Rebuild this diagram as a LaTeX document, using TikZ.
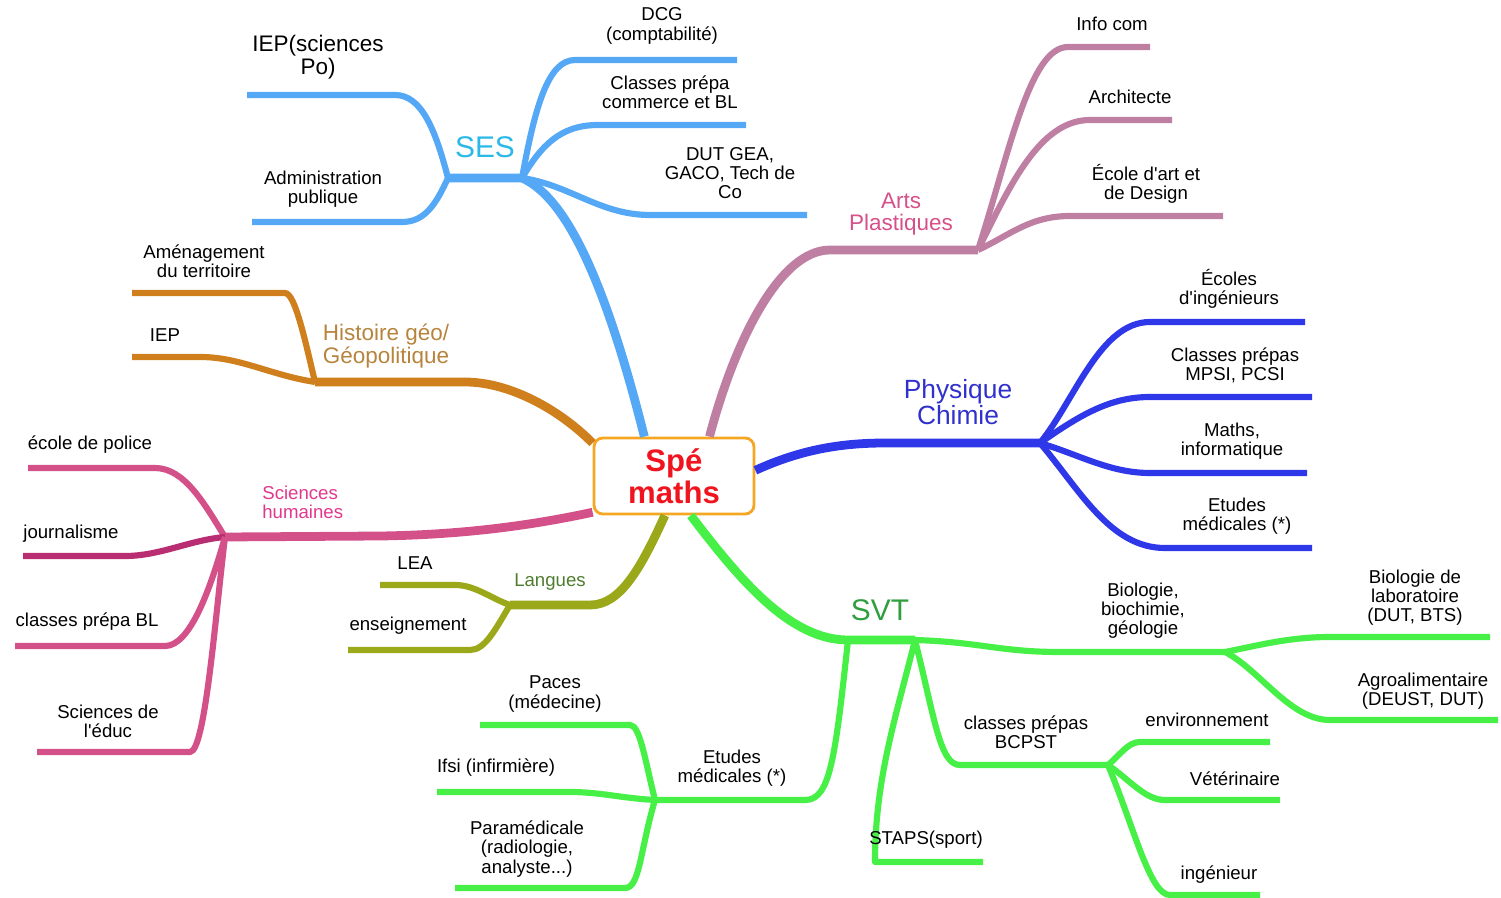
\documentclass[tikz,border=0pt]{standalone}
\usepackage{fontspec}
\setmainfont{Liberation Sans}
\definecolor{sesc}{HTML}{55A8F5}
\definecolor{sest}{HTML}{2AB8E6}
\definecolor{artc}{HTML}{BF7FA3}
\definecolor{artt}{HTML}{D6508A}
\definecolor{hisc}{HTML}{CF7F1B}
\definecolor{hist}{HTML}{B7843E}
\definecolor{phyc}{HTML}{2F38E8}
\definecolor{phyt}{HTML}{3030CC}
\definecolor{shc}{HTML}{D35089}
\definecolor{shd}{HTML}{B92E73}
\definecolor{sht}{HTML}{E2378C}
\definecolor{lanc}{HTML}{9AA819}
\definecolor{lant}{HTML}{4F7C2F}
\definecolor{svtc}{HTML}{46F046}
\definecolor{svtt}{HTML}{2E9E3E}
\definecolor{spet}{HTML}{F0141E}
\definecolor{spef}{HTML}{F5A623}
\tikzset{
  trunk/.style={line width=5pt,line join=round},
  twig/.style={line width=3.5pt,line join=round},
  lbl/.style={align=center,inner sep=0pt,font=\fontsize{10.6}{10.9}\selectfont},
  big/.style={align=center,inner sep=0pt,font=\fontsize{#1}{#1}\selectfont},
}
\begin{document}
\begin{tikzpicture}[x=0.02cm,y=-0.02cm]
\path[use as bounding box] (0,0) rectangle (1501,898);
\node[draw=spef,line width=1.6pt,fill=white,rounded corners=5pt,minimum width=3.2cm,minimum height=1.52cm,
  align=center,text=spet,font=\bfseries\fontsize{17.7}{18}\selectfont] (spe) at (674,476) {Spé\\maths};
% SES
\coordinate (ses) at (522,178);
\coordinate (sesl) at (448,178);
\coordinate (iep) at (247,95);
\coordinate (adm) at (252,222);
\coordinate (dcg) at (737,60);
\coordinate (com) at (746,125);
\coordinate (dut) at (807,215);
\draw[trunk,sesc] (spe.127) .. controls (600,260) and (560,195) .. (ses) -- (sesl);
\draw[twig,sesc] (sesl) .. controls (435,128) and (421,95) .. (395,95) -- (iep);
\draw[twig,sesc] (sesl) .. controls (436,204) and (425,222) .. (402,222) -- (adm);
\draw[twig,sesc] (ses) .. controls (535,107) and (548,60) .. (575,60) -- (dcg);
\draw[twig,sesc] (ses) .. controls (541,146) and (560,125) .. (598,125) -- (com);
\draw[twig,sesc] (ses) .. controls (570,185) and (600,215) .. (650,215) -- (dut);
\node[big=12.8] at (318,57) {IEP(sciences\\Po)};
\node[lbl] at (323,189) {Administration\\publique};
\node[big=17,text=sest] at (485,147) {SES};
\node[lbl] at (662,26) {DCG\\(comptabilité)};
\node[lbl] at (670,92) {Classes prépa\\commerce et BL};
\node[lbl] at (730,173) {DUT GEA,\\GACO, Tech de\\Co};
% Arts plastiques
\coordinate (art) at (978,250);
\coordinate (info) at (1150,47);
\coordinate (archi) at (1172,120);
\coordinate (ecole) at (1223,216);
\draw[trunk,artc] (spe.48) .. controls (735,340) and (780,250) .. (830,250) -- (art);
\draw[twig,artc] (art) .. controls (1010,150) and (1030,47) .. (1068,47) -- (info);
\draw[twig,artc] (art) .. controls (1010,185) and (1040,120) .. (1090,120) -- (archi);
\draw[twig,artc] (art) .. controls (1010,235) and (1030,216) .. (1070,216) -- (ecole);
\node[big=12.8,text=artt] at (901,214) {Arts\\Plastiques};
\node[lbl] at (1112,24) {Info com};
\node[lbl] at (1130,97) {Architecte};
\node[lbl] at (1146,184) {École d\textquotesingle art et\\de Design};
% Histoire geo
\coordinate (his) at (315,382);
\coordinate (amen) at (132,293);
\coordinate (iepb) at (132,357);
\draw[trunk,hisc] (spe.158) .. controls (560,410) and (510,382) .. (465,382) -- (his);
\draw[twig,hisc] (his) .. controls (305,340) and (295,293) .. (285,293) -- (amen);
\draw[twig,hisc] (his) .. controls (270,375) and (240,357) .. (200,357) -- (iepb);
\node[lbl] at (204,261) {Aménagement\\du territoire};
\node[lbl] at (165,335) {IEP};
\node[big=12.8,text=hist] at (386,346) {Histoire géo/\\Géopolitique};
% Physique chimie
\coordinate (phy) at (1040,443);
\coordinate (ing) at (1305,322);
\coordinate (mpsi) at (1312,397);
\coordinate (info2) at (1307,473);
\coordinate (med) at (1312,548);
\draw[trunk,phyc] (spe.4) .. controls (800,450) and (840,443) .. (885,443) -- (phy);
\draw[twig,phyc] (phy) .. controls (1075,400) and (1100,322) .. (1150,322) -- (ing);
\draw[twig,phyc] (phy) .. controls (1080,415) and (1110,397) .. (1150,397) -- (mpsi);
\draw[twig,phyc] (phy) .. controls (1080,455) and (1110,473) .. (1150,473) -- (info2);
\draw[twig,phyc] (phy) .. controls (1080,490) and (1110,548) .. (1165,548) -- (med);
\node[big=15,text=phyt] at (958,402) {Physique\\Chimie};
\node[lbl] at (1229,289) {Écoles\\d\textquotesingle ingénieurs};
\node[lbl] at (1235,365) {Classes prépas\\MPSI, PCSI};
\node[lbl] at (1232,441) {Maths,\\informatique};
\node[lbl] at (1237,516) {Etudes\\médicales (*)};
% Sciences humaines
\coordinate (sh) at (225,537);
\coordinate (pol) at (28,468);
\coordinate (jour) at (23,556);
\coordinate (bl) at (15,646);
\coordinate (educ) at (37,752);
\draw[trunk,shc] (spe.204) .. controls (520,528) and (450,535) .. (380,536) -- (sh);
\draw[twig,shc] (sh) .. controls (205,505) and (185,468) .. (155,468) -- (pol);
\draw[twig,shd] (sh) .. controls (190,540) and (160,556) .. (125,556) -- (jour);
\draw[twig,shc] (sh) .. controls (210,590) and (190,646) .. (165,646) -- (bl);
\draw[twig,shc] (sh) .. controls (215,620) and (205,752) .. (190,752) -- (educ);
\node[lbl,text=sht,anchor=west,align=left] at (262,502) {Sciences\\humaines};
\node[lbl] at (90,445) {école de police};
\node[lbl] at (71,534) {journalisme};
\node[lbl] at (87,622) {classes prépa BL};
\node[lbl] at (108,721) {Sciences de\\l\textquotesingle éduc};
% Langues
\coordinate (lan) at (510,605);
\coordinate (lea) at (380,585);
\coordinate (ens) at (348,650);
\draw[trunk,lanc] (spe.257) .. controls (640,570) and (620,605) .. (590,605) -- (lan);
\draw[twig,lanc] (lan) .. controls (490,598) and (475,585) .. (455,585) -- (lea);
\draw[twig,lanc] (lan) .. controls (495,630) and (485,650) .. (470,650) -- (ens);
\node[lbl,text=lant] at (550,582) {Langues};
\node[lbl] at (415,563) {LEA};
\node[lbl] at (408,626) {enseignement};
% SVT
\coordinate (svt) at (848,640);
\coordinate (svtr) at (915,640);
\coordinate (etu) at (655,800);
\coordinate (pac) at (480,725);
\coordinate (ifsi) at (437,792);
\coordinate (para) at (455,888);
\coordinate (bio) at (1225,652);
\coordinate (labo) at (1490,637);
\coordinate (agro) at (1498,720);
\coordinate (staps) at (983,862);
\coordinate (bcp) at (1108,765);
\coordinate (env) at (1270,742);
\coordinate (vet) at (1280,800);
\coordinate (inge) at (1260,895);
\draw[trunk,svtc] (spe.293) .. controls (740,580) and (790,640) .. (svt) -- (svtr);
\draw[twig,svtc] (svt) .. controls (835,760) and (830,800) .. (805,800) -- (etu);
\draw[twig,svtc] (etu) .. controls (645,760) and (640,725) .. (630,725) -- (pac);
\draw[twig,svtc] (etu) .. controls (620,798) and (600,792) .. (570,792) -- (ifsi);
\draw[twig,svtc] (etu) .. controls (640,850) and (640,888) .. (625,888) -- (para);
\draw[twig,svtc] (svtr) .. controls (980,642) and (1000,652) .. (1060,652) -- (bio);
\draw[twig,svtc] (bio) .. controls (1260,645) and (1290,637) .. (1330,637) -- (labo);
\draw[twig,svtc] (bio) .. controls (1260,670) and (1290,720) .. (1330,720) -- (agro);
\draw[twig,svtc] (svtr) .. controls (895,720) and (875,780) .. (875,862) -- (staps);
\draw[twig,svtc] (svtr) .. controls (935,720) and (940,765) .. (960,765) -- (bcp);
\draw[twig,svtc] (bcp) .. controls (1120,755) and (1128,742) .. (1140,742) -- (env);
\draw[twig,svtc] (bcp) .. controls (1130,780) and (1145,800) .. (1165,800) -- (vet);
\draw[twig,svtc] (bcp) .. controls (1135,830) and (1150,895) .. (1170,895) -- (inge);
\node[big=17,text=svtt] at (880,610) {SVT};
\node[lbl] at (732,768) {Etudes\\médicales (*)};
\node[lbl] at (555,694) {Paces\\(médecine)};
\node[lbl] at (496,768) {Ifsi (infirmière)};
\node[lbl] at (527,849) {Paramédicale\\(radiologie,\\analyste...)};
\node[lbl] at (1143,611) {Biologie,\\biochimie,\\géologie};
\node[lbl] at (1415,598) {Biologie de\\laboratoire\\(DUT, BTS)};
\node[lbl] at (1423,691) {Agroalimentaire\\(DEUST, DUT)};
\node[lbl] at (1026,732) {classes prépas\\BCPST};
\node[lbl] at (1207,720) {environnement};
\node[lbl] at (1235,779) {Vétérinaire};
\node[lbl] at (1219,875) {ingénieur};
\node[lbl] at (926,840) {STAPS(sport)};
\end{tikzpicture}
\end{document}
